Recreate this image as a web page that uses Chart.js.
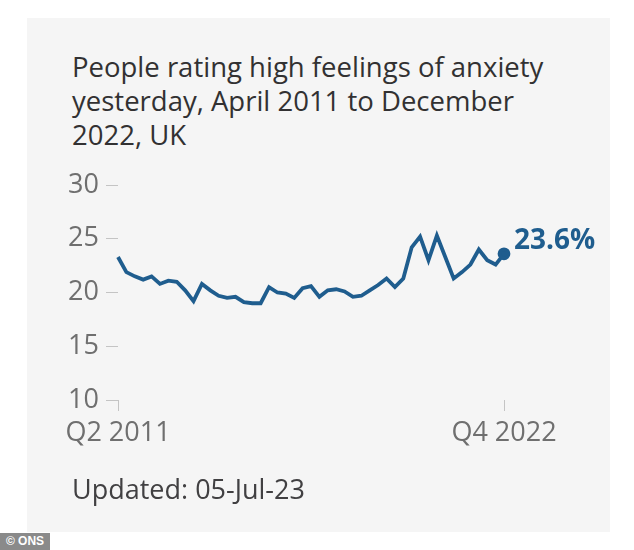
<!DOCTYPE html>
<html>
<head>
<meta charset="utf-8">
<script src="https://cdn.jsdelivr.net/npm/chart.js@4.4.0/dist/chart.umd.min.js"></script>
<style>
    body { margin: 0; background: #fff; width: 634px; height: 550px; position: relative; overflow: hidden; font-family: "Open Sans", sans-serif; }
    #panel { position: absolute; left: 27px; top: 18px; width: 583px; height: 514px; background: #f5f5f5; }
    #title { position: absolute; left: 45px; top: 32px; width: 500px; font-size: 27.5px; line-height: 34px; color: #323132; }
    #updated { position: absolute; left: 45px; top: 456px; font-size: 27px; line-height: 30px; color: #414042; }
    #wrap { position: absolute; left: 0; top: 142px; width: 583px; height: 320px; }
    #ons { position: absolute; left: 0; top: 533px; width: 50px; height: 17px; background: #8a8a8a; color: #fff;
        font-family: "Liberation Sans Narrow", "Liberation Sans", sans-serif; font-weight: bold; font-size: 12px; line-height: 17px; text-align: center; }
</style>
</head>
<body>
<div id="panel">
    <div id="title">People rating high feelings of anxiety yesterday, April 2011 to December 2022, UK</div>
    <div id="wrap"><canvas id="anxiety"></canvas></div>
    <div id="updated">Updated: 05-Jul-23</div>
</div>
<div id="ons">© ONS</div>
<script>
    const quarters = [];
    for (let year = 2011; year <= 2022; year++) {
        for (let q = 1; q <= 4; q++) {
            if (year === 2011 && q === 1) continue;
            quarters.push('Q' + q + ' ' + year);
        }
    }

    // % rating high anxiety
    const anxietyValues = [
        23.3, 21.9, 21.5, 21.2, 21.5, 20.8, 21.1, 21.0, 20.2, 19.2,
        20.8, 20.2, 19.7, 19.5, 19.6, 19.1, 19.0, 19.0, 20.5, 20.0,
        19.9, 19.5, 20.4, 20.6, 19.6, 20.2, 20.3, 20.1, 19.6, 19.7,
        20.2, 20.7, 21.3, 20.5, 21.3, 24.2, 25.2, 23.0, 25.3, 23.3,
        21.3, 21.9, 22.6, 24.0, 23.0, 22.6, 23.6
    ];
    const yTicks = [10, 15, 20, 25, 30];
    const lineColor = '#1f5d8e';
    const lastIndex = anxietyValues.length - 1;

    const endLabel = {
        id: 'endLabel',
        afterDatasetsDraw(chart) {
            const ctx = chart.ctx;
            const point = chart.getDatasetMeta(0).data[lastIndex];
            ctx.save();
            ctx.fillStyle = lineColor;
            ctx.font = 'bold 28px "Open Sans"';
            ctx.textBaseline = 'middle';
            ctx.fillText(anxietyValues[lastIndex].toFixed(1) + '%', point.x + 10, point.y - 13);
            ctx.restore();
        }
    };

    new Chart(document.getElementById('anxiety'), {
        type: 'line',
        data: {
            labels: quarters,
            datasets: [{
                data: anxietyValues,
                borderColor: lineColor,
                backgroundColor: lineColor,
                borderWidth: 3.8,
                tension: 0,
                pointRadius: ctx => ctx.dataIndex === lastIndex ? 4.5 : 0,
                pointHoverRadius: 0
            }]
        },
        options: {
            responsive: true,
            maintainAspectRatio: false,
            animation: false,
            events: [],
            layout: {padding: {top: 25, right: 106, left: 0, bottom: 0}},
            plugins: {legend: {display: false}, tooltip: {enabled: false}},
            scales: {
                x: {
                    offset: false,
                    border: {display: false},
                    grid: {drawOnChartArea: false, drawTicks: true, tickLength: 11, color: '#c4c4c4', lineWidth: 1},
                    ticks: {autoSkip: false, maxRotation: 0, padding: 6, color: '#6f6f6f', font: {family: 'Open Sans', size: 27}},
                    afterBuildTicks: scale => {
                        scale.ticks = scale.ticks.filter(t => t.value === 0 || t.value === lastIndex);
                    },
                    afterFit: scale => { scale.height = 80; }
                },
                y: {
                    min: 10,
                    max: 30,
                    border: {display: false},
                    grid: {drawOnChartArea: false, drawTicks: true, tickLength: 12, color: '#c4c4c4', lineWidth: 1},
                    ticks: {padding: 7, color: '#6f6f6f', font: {family: 'Open Sans', size: 27}},
                    afterBuildTicks: scale => {
                        scale.ticks = yTicks.map(v => ({value: v}));
                    },
                    afterFit: scale => { scale.width = 91; }
                }
            }
        },
        plugins: [endLabel]
    });
</script>
</body>
</html>
